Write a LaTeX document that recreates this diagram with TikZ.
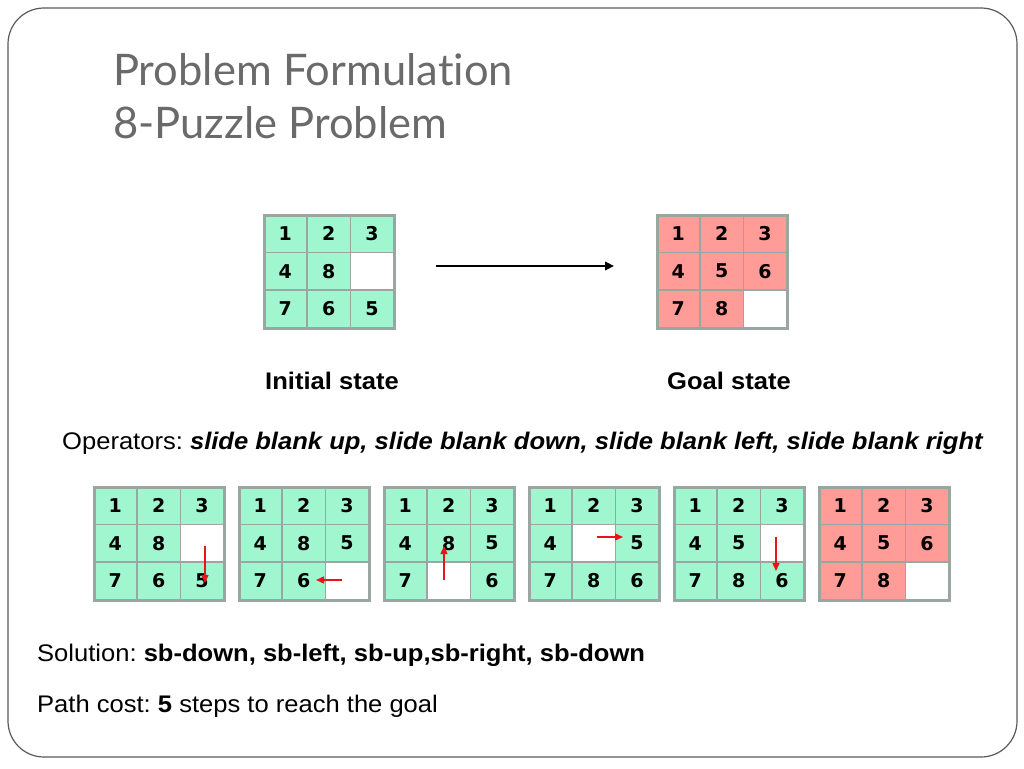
\documentclass[tikz,border=0pt]{standalone}
\usepackage{fontspec}
\setmainfont{Liberation Sans}[FakeStretch=1.065]
\newfontfamily\cellfont{DejaVu Sans Bold}
\newfontfamily\titlefont{Lato}[Ligatures=NoCommon]
\usetikzlibrary{arrows.meta,calc}
\frenchspacing
\definecolor{cellline}{HTML}{9AA6A2}
\definecolor{greenfill}{HTML}{A0F7CF}
\definecolor{redfill}{HTML}{FF9C98}
\definecolor{titlegray}{HTML}{6A6A6A}
\definecolor{framegray}{HTML}{5A5A5A}
\definecolor{arrowred}{HTML}{E8141C}
\tikzset{
  cell/.style={draw=cellline, line width=1.3pt, minimum width=43.33pt, minimum height=37.67pt,
    inner sep=0pt, anchor=north west, font=\cellfont\fontsize{19}{19}\selectfont},
  gridframe/.style={draw=cellline, line width=3pt, minimum width=130pt, minimum height=113pt,
    inner sep=0pt, anchor=north west},
  redarrow/.style={draw=arrowred, line width=1.4pt, -{Triangle[length=8pt,width=7pt]}},
  bodytext/.style={anchor=base west, inner sep=0pt, font=\fontsize{24}{28}\selectfont},
}
% #1 name, #2 x, #3 y, #4 fill colour, #5 entries (0 = blank)
\newcommand{\puzzlegrid}[5]{%
  \foreach \v [count=\i from 0] in {#5} {%
    \pgfmathtruncatemacro{\col}{mod(\i,3)}%
    \pgfmathtruncatemacro{\row}{div(\i,3)}%
    \ifnum\v=0
      \node[cell, fill=white] (#1-\i) at ({#2+\col*43.333}, {#3+\row*37.667}) {};
    \else
      \node[cell, fill=#4] (#1-\i) at ({#2+\col*43.333}, {#3+\row*37.667}) {\v};
    \fi
  }%
  \node[gridframe] (#1) at (#2,#3) {};
}
\begin{document}
\begin{tikzpicture}[x=1pt,y=-1pt]
\useasboundingbox (0,0) rectangle (1024,768);
\fill[white] (0,0) rectangle (1024,768);
% frame
\draw[framegray, line width=1.2pt, rounded corners=36pt] (8,8) rectangle (1017,757);
% title
\node[anchor=base west, inner sep=0pt, text=titlegray, font=\titlefont\fontsize{43.5}{55}\selectfont] (title1) at (113,85) {Problem Formulation};
\node[anchor=base west, inner sep=0pt, text=titlegray, font=\titlefont\fontsize{43.5}{55}\selectfont] (title2) at (113,138) {8-Puzzle Problem};
% initial and goal
\puzzlegrid{init}{263}{214}{greenfill}{1,2,3,4,8,0,7,6,5}
\puzzlegrid{goal}{656}{214}{redfill}{1,2,3,4,5,6,7,8,0}
\coordinate (arrS) at (436,266);
\coordinate (arrE) at (614,266);
\draw[line width=2.8pt, -{Triangle[length=9pt,width=8.5pt]}] (arrS) -- (arrE);
\node[anchor=base, inner sep=0pt, font=\bfseries\fontsize{24}{28}\selectfont] (initlbl) at (332,389) {Initial state};
\node[anchor=base, inner sep=0pt, font=\bfseries\fontsize{24}{28}\selectfont] (goallbl) at (729,389) {Goal state};
\node[bodytext] (ops) at (62,449) {Operators: \textbf{\textit{slide blank up, slide blank down, slide blank left, slide blank right}}};
% sequence
\puzzlegrid{s1}{93}{486}{greenfill}{1,2,3,4,8,0,7,6,5}
\puzzlegrid{s2}{238}{486}{greenfill}{1,2,3,4,8,5,7,6,0}
\puzzlegrid{s3}{383}{486}{greenfill}{1,2,3,4,8,5,7,0,6}
\puzzlegrid{s4}{528}{486}{greenfill}{1,2,3,4,0,5,7,8,6}
\puzzlegrid{s5}{673}{486}{greenfill}{1,2,3,4,5,0,7,8,6}
\puzzlegrid{s6}{818}{486}{redfill}{1,2,3,4,5,6,7,8,0}
% red arrows
\coordinate (a1s) at (205,546); \coordinate (a1e) at (205,583);
\coordinate (a2s) at (342,580); \coordinate (a2e) at (316,580);
\coordinate (a3s) at (444,580); \coordinate (a3e) at (444,546);
\coordinate (a4s) at (597,537); \coordinate (a4e) at (623,537);
\coordinate (a5s) at (776,537); \coordinate (a5e) at (776,571);
\draw[redarrow] (a1s) -- (a1e);
\draw[redarrow] (a2s) -- (a2e);
\draw[redarrow] (a3s) -- (a3e);
\draw[redarrow] (a4s) -- (a4e);
\draw[redarrow] (a5s) -- (a5e);
% bottom text
\node[bodytext] (sol) at (37,661) {Solution: \textbf{sb-down, sb-left, sb-up,sb-right, sb-down}};
\node[bodytext] (cost) at (37,712) {Path cost: \textbf{5} steps to reach the goal};
\end{tikzpicture}
\end{document}
